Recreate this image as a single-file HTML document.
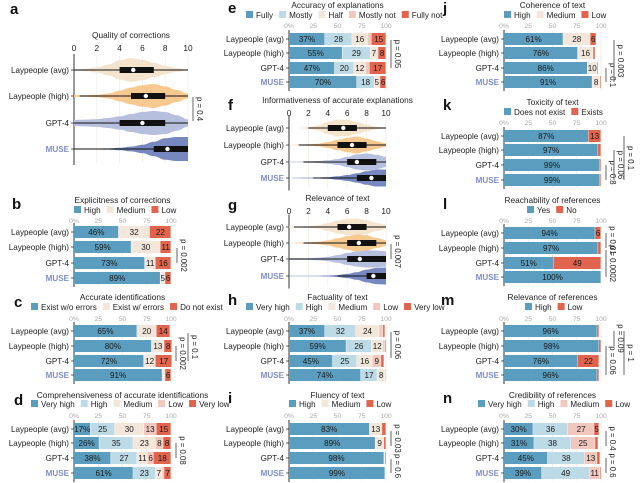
<!DOCTYPE html>
<html><head><meta charset="utf-8">
<style>
body{margin:0;background:#fff;}
svg{display:block;font-family:"Liberation Sans",Arial,sans-serif;}
</style></head>
<body>
<svg id="fig" width="640" height="483" viewBox="0 0 640 483"></svg>
<script>
// ---------- data ----------
const rowLabels = ["Laypeople (avg)","Laypeople (high)","GPT-4","MUSE"];
const pctTicks = ["0%","25","50","75","100"];
const pctTickVals = [0,25,50,75,100];
const scoreTicks = [0,2,4,6,8,10];

const bData = [[46,32,22],[59,30,11],[73,11,16],[89,5,6]];
const cData = [[65,20,14],[80,13,8],[72,12,17],[91,3,6]];
const dData = [[17,25,30,13,15],[26,35,23,8,8],[38,27,11,6,18],[61,23,7,2,7]];
const eData = [[37,28,16,4,15],[55,29,7,1,8],[47,20,12,4,17],[70,18,5,1,6]];
const hData = [[37,32,24,4,2],[59,26,12,2,1],[45,25,16,9,3],[74,17,8,1,0]];
const iData = [[83,13,4],[89,9,2],[98,1,1],[99,1,0]];
const jData = [[61,28,6],[76,16,2],[86,10,1],[91,8,1]];
const kData = [[87,13],[97,3],[99,1],[99,1]];
const lData = [[94,6],[97,3],[51,49],[100,0]];
const mData = [[96,2],[98,2],[76,22],[96,2]];
const nData = [[30,36,27,5],[31,38,25,3],[45,38,13,3],[39,49,11,1]];

// violin stats: [min, q1, median, q3, max]
const aStats = [[0,4,5.2,7,10],[0.5,5,6.3,8,10],[0,4,6,8,10],[0,7,8.2,10,10]];
const aDens = [[0.05,0.1,0.2,0.45,0.8,1,0.85,0.6,0.35,0.15,0.05],[0.08,0.06,0.1,0.2,0.45,0.7,0.9,1,0.8,0.5,0.2],[0.25,0.28,0.32,0.42,0.55,0.75,0.92,1,0.92,0.65,0.3],[0.04,0.04,0.04,0.05,0.1,0.2,0.35,0.6,0.9,1,1]];
const fStats = [[2,4,5.6,7,10],[1,5,6.5,8,10],[1.5,6,7,9,10],[2.5,7,8.5,10,10]];
const fDens = [[0,0,0.1,0.3,0.7,1,0.95,0.7,0.4,0.15,0.05],[0,0.05,0.08,0.15,0.35,0.6,0.85,1,0.75,0.45,0.2],[0.05,0.05,0.08,0.12,0.2,0.35,0.6,0.9,1,0.85,0.6],[0,0.04,0.05,0.06,0.1,0.2,0.35,0.55,0.8,1,1]];
const gStats = [[0.5,5,6.2,8,10],[1.5,6,7.2,9,10],[0,6,7.3,10,10],[5,8,8.7,10,10]];
const gDens = [[0.08,0.06,0.1,0.2,0.45,0.75,0.95,1,0.8,0.5,0.25],[0,0.05,0.08,0.15,0.3,0.55,0.8,1,0.9,0.6,0.35],[0.1,0.08,0.1,0.15,0.25,0.45,0.7,0.9,1,1,0.9],[0.03,0.03,0.03,0.04,0.06,0.12,0.25,0.45,0.75,0.95,1]];

const C5 = ["#5b9dbf","#bcdbe7","#f3e7dc","#f2c7bd","#e1644f"];
const C3 = ["#5b9dbf","#f3e7dc","#e1644f"];
const C2 = ["#5b9dbf","#e1644f"];
const C4 = ["#5b9dbf","#bcdbe7","#f2c7bd","#e1644f"];
const vCols = ["#f5e4cd","#f6c990","#b6bfdd","#7788c0"];

// ---------- helpers ----------
const NS="http://www.w3.org/2000/svg";
const svg=document.getElementById("fig");
function el(tag,attrs,parent){const e=document.createElementNS(NS,tag);for(const k in attrs)e.setAttribute(k,attrs[k]);(parent||svg).appendChild(e);return e;}
function txt(s,x,y,size,attrs,parent){const t=el("text",Object.assign({x:x,y:y,"font-size":size,fill:"#222"},attrs||{}),parent);t.textContent=s;return t;}

function panelLetter(s,x,y){
  const t=txt(s,x,y,15,{"font-weight":"bold",fill:"#111"});
  
  
}
function rowLabelsDraw(g,x0,ys){
  ys.forEach((y,i)=>{
    const t=txt(rowLabels[i],x0-5,y+3,8.1,{"text-anchor":"end",fill:i==3?"#7f8fc8":"#222","font-weight":i==3?"bold":"normal"},g);
    
    
    el("line",{x1:x0-3,x2:x0,y1:y,y2:y,stroke:"#333","stroke-width":0.8},g);
  });
}
function legend(g,items,cols,x,y){
  let cx=x;
  items.forEach((s,i)=>{
    const r=el("rect",{x:cx,y:y-7,width:7,height:7,fill:cols[i]},g);
    
    
    const t=txt(s,cx+10,y,8.1,{},g);
    
    
    cx+=10+t.getComputedTextLength()+6;
  });
}
function pval(g,x,y1,y2,label){
  el("line",{x1:x,x2:x,y1:y1,y2:y2,stroke:"#666","stroke-width":1},g);
  const ym=(y1+y2)/2;
  const t=txt(label,x+4,ym,7.8,{"text-anchor":"middle",transform:"rotate(90 "+(x+4)+" "+ym+")"},g);
  
  
}

function barPanel(name,o){
  const g=el("g",{});
  
  
  const xs=v=>o.x0+(o.x1-o.x0)*v/100;
  const tt=txt(o.title,(o.x0+o.x1)/2,o.titleY,8.3,{"text-anchor":"middle"},g);
  
  
  if(o.legend) legend(g,o.legend,o.cols,o.legX,o.legY);
  pctTickVals.forEach((v,i)=>{
    el("line",{x1:xs(v),x2:xs(v),y1:o.ys[0]-8,y2:o.ys[3]+8,stroke:"#f1ece4","stroke-width":0.8},g);
    const t=txt(pctTicks[i],xs(v),o.tickY,6.8,{"text-anchor":"middle",fill:"#aaa"},g);
    
    
  });
  el("line",{x1:o.x0,x2:o.x0,y1:o.ys[0]-9,y2:o.ys[3]+9,stroke:"#333","stroke-width":1},g);
  rowLabelsDraw(g,o.x0,o.ys);
  o.data.forEach((row,ri)=>{
    let acc=0;
    row.forEach((v,si)=>{
      if(v<=0){return;}
      const r=el("rect",{x:xs(acc),y:o.ys[ri]-6,width:Math.max(0,xs(acc+v)-xs(acc)-0.4),height:12,fill:o.cols[si]},g);
      
      
      if(si==0||v>=5){
        const lbl=si==0?v+"%":String(v);
        const t=txt(lbl,(xs(acc)+xs(acc+v))/2,o.ys[ri]+3,8.1,{"text-anchor":"middle",fill:"#1a1a1a"},g);
        
        
      }
      acc+=v;
    });
  });
  return g;
}

function violinPanel(name,o){
  const g=el("g",{});
  
  
  const xs=v=>o.x0+(o.x1-o.x0)*v/10;
  const tt=txt(o.title,(o.x0+o.x1)/2,o.titleY,8.3,{"text-anchor":"middle"},g);
  
  
  scoreTicks.forEach(v=>{
    el("line",{x1:xs(v),x2:xs(v),y1:o.ys[0]-o.h-2,y2:o.ys[3]+o.h+2,stroke:"#f3eee5","stroke-width":0.8},g);
    const t=txt(String(v),xs(v),o.tickY,8.3,{"text-anchor":"middle"},g);
    
    
  });
  el("line",{x1:o.x0,x2:o.x0,y1:o.ys[0]-o.h-4,y2:o.ys[3]+o.h+4,stroke:"#333","stroke-width":1},g);
  rowLabelsDraw(g,o.x0,o.ys);
  o.dens.forEach((d,ri)=>{
    const y=o.ys[ri];
    const pts=[];
    for(let k=0;k<=100;k++){
      const xv=k/10, i=Math.min(9,Math.floor(xv)), f=xv-i;
      const w=(1-Math.cos(Math.PI*f))/2;
      pts.push([xs(xv),(d[i]*(1-w)+d[i+1]*w)*o.h]);
    }
    let p="M"+pts.map(q=>q[0].toFixed(1)+","+(y-q[1]).toFixed(1)).join("L");
    p+="L"+pts.slice().reverse().map(q=>q[0].toFixed(1)+","+(y+q[1]).toFixed(1)).join("L")+"Z";
    const v=el("path",{d:p,fill:vCols[ri],stroke:"none"},g);
    
    
    const s=o.stats[ri];
    el("line",{x1:xs(s[0]),x2:xs(s[4]),y1:y,y2:y,stroke:"#111","stroke-width":1},g);
    const b=el("rect",{x:xs(s[1]),y:y-3,width:xs(s[3])-xs(s[1]),height:6,fill:"#111"},g);
    
    
    const m=el("circle",{cx:xs(s[2]),cy:y,r:2.2,fill:"#fff"},g);
    
    
  });
  return g;
}

// ---------- column 1 ----------
panelLetter("a",10,14);
violinPanel("panel-a-quality",{x0:74,x1:188,ys:[70,96,123,149],h:12,title:"Quality of corrections",titleY:38,tickY:51,dens:aDens,stats:aStats});
pval(svg,193,97,121,"p = 0.4");

panelLetter("b",12,209);
barPanel("panel-b-explicitness",{x0:74,x1:171,ys:[232,247,263,278],title:"Explicitness of corrections",titleY:203,legend:["High","Medium","Low"],cols:C3,legX:74,legY:213,tickY:223,data:bData});
pval(svg,177,248,263,"p = 0.002");

panelLetter("c",14,307);
barPanel("panel-c-identifications",{x0:74,x1:171,ys:[331,346,361,375],title:"Accurate identifications",titleY:300,legend:["Exist w/o errors","Exist w/ errors","Do not exist"],cols:C3,legX:31,legY:310,tickY:321,data:cData});
pval(svg,176,346,361,"p = 0.002");
pval(svg,188,333,361,"p = 0.1");

panelLetter("d",14,405);
barPanel("panel-d-comprehensiveness",{x0:74,x1:171,ys:[429,443,458,473],title:"Comprehensiveness of accurate identifications",titleY:398,legend:["Very high","High","Medium","Low","Very low"],cols:C5,legX:31,legY:407,tickY:418,data:dData});
pval(svg,176,443,458,"p = 0.08");

// ---------- column 2 ----------
panelLetter("e",228,13);
barPanel("panel-e-accuracy",{x0:289,x1:386,ys:[39,53,68,82],title:"Accuracy of explanations",titleY:8,legend:["Fully","Mostly","Half","Mostly not","Fully not"],cols:C5,legX:246,legY:18,tickY:28,data:eData});
pval(svg,391,40,68,"p = 0.05");

panelLetter("f",228,110);
violinPanel("panel-f-informativeness",{x0:289,x1:386,ys:[128,145,162,178],h:8.5,title:"Informativeness of accurate explanations",titleY:103,tickY:116,dens:fDens,stats:fStats});

panelLetter("g",228,210);
violinPanel("panel-g-relevance",{x0:289,x1:386,ys:[227,243,259,276],h:8.5,title:"Relevance of text",titleY:201,tickY:214,dens:gDens,stats:gStats});
pval(svg,391,244,259,"p = 0.007");

panelLetter("h",228,305);
barPanel("panel-h-factuality",{x0:289,x1:386,ys:[331,346,361,375],title:"Factuality of text",titleY:300,legend:["Very high","High","Medium","Low","Very low"],cols:C5,legX:246,legY:310,tickY:321,data:hData});
pval(svg,391,332,358,"p = 0.06");

panelLetter("i",228,403);
barPanel("panel-i-fluency",{x0:289,x1:386,ys:[429,443,458,473],title:"Fluency of text",titleY:398,legend:["High","Medium","Low"],cols:C3,legX:289,legY:407,tickY:418,data:iData});
pval(svg,391,431,446,"p = 0.03");
pval(svg,391,459,473,"p = 0.6");

// ---------- column 3 ----------
panelLetter("j",443,13);
barPanel("panel-j-coherence",{x0:504,x1:601,ys:[39,53,68,82],title:"Coherence of text",titleY:8,legend:["High","Medium","Low"],cols:C3,legX:504,legY:18,tickY:28,data:jData});
pval(svg,606,68,82,"p = 0.1");
pval(svg,614,40,82,"p = 0.003");

panelLetter("k",443,110);
barPanel("panel-k-toxicity",{x0:504,x1:601,ys:[136,150,165,180],title:"Toxicity of text",titleY:105,legend:["Does not exist","Exists"],cols:C2,legX:504,legY:115,tickY:125,data:kData});
pval(svg,606,165,180,"p = 0.8");
pval(svg,614,150,180,"p = 0.06");
pval(svg,624,136,180,"p = 0.1");

panelLetter("l",443,209);
barPanel("panel-l-reachability",{x0:504,x1:601,ys:[233,248,263,277],title:"Reachability of references",titleY:203,legend:["Yes","No"],cols:C2,legX:527,legY:213,tickY:223,data:lData});
pval(svg,606,233,248,"p = 0.01");
pval(svg,606,250,277,"p = 0.0002");

panelLetter("m",441,305);
barPanel("panel-m-relevance-refs",{x0:504,x1:601,ys:[331,346,361,375],title:"Relevance of references",titleY:300,legend:["High","Low"],cols:C2,legX:525,legY:310,tickY:321,data:mData});
pval(svg,606,346,375,"p = 0.06");
pval(svg,614,331,346,"p = 0.09");
pval(svg,624,331,375,"p = 1");

panelLetter("n",443,403);
barPanel("panel-n-credibility",{x0:504,x1:601,ys:[429,443,458,473],title:"Credibility of references",titleY:398,legend:["Very high","High","Medium","Low"],cols:C4,legX:478,legY:407,tickY:418,data:nData});
pval(svg,606,431,446,"p = 0.4");
pval(svg,606,458,473,"p = 0.6");
</script>
</body></html>
